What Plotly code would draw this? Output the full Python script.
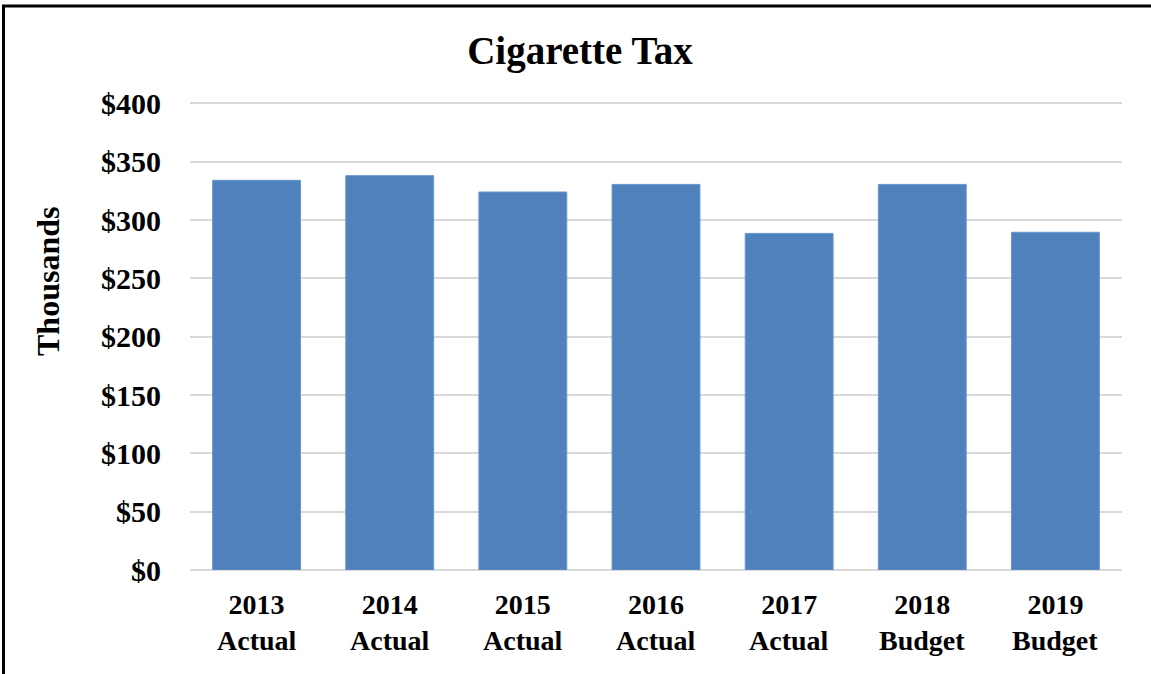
import plotly.graph_objects as go

years = ["2013", "2014", "2015", "2016", "2017", "2018", "2019"]
kinds = ["Actual", "Actual", "Actual", "Actual", "Actual", "Budget", "Budget"]
values = [334, 338, 324, 330.5, 288.5, 330.5, 289.5]
y_ticks = [0, 50, 100, 150, 200, 250, 300, 350, 400]
y_ticktext = ["$" + str(v) for v in y_ticks]

W, H = 1151, 674
L, R, T, B = 190, 29, 101, 104
pw, ph = W - L - R, H - T - B

def px(x):
    return (x - L) / pw

def py(y):
    return (H - B - y) / ph

serif = "Liberation Serif, Times New Roman, serif"
xs = list(range(len(years)))

fig = go.Figure(go.Bar(
    x=xs, y=values,
    marker=dict(color="#4f81bd", line=dict(color="#6a95c9", width=1)),
    width=0.66,
))

annotations = [dict(x=i, y=py(640), xref="x", yref="paper", text=f"<b>{k}</b>",
                    showarrow=False, xanchor="center", yanchor="middle",
                    font=dict(family=serif, size=28, color="black"))
               for i, k in zip(xs, kinds)]
annotations.append(dict(x=px(48), y=py(282), xref="paper", yref="paper",
                        text="<b>Thousands</b>", textangle=-90, showarrow=False,
                        xanchor="center", yanchor="middle",
                        font=dict(family=serif, size=32, color="black")))

fig.update_layout(
    width=W, height=H,
    margin=dict(l=L, r=R, t=T, b=B, pad=0),
    paper_bgcolor="white", plot_bgcolor="white",
    showlegend=False,
    title=dict(text="<b>Cigarette Tax</b>", x=580 / W, xref="container", xanchor="center",
               y=1 - 50 / H, yref="container", yanchor="middle",
               font=dict(family=serif, size=39, color="black")),
    xaxis=dict(tickmode="array", tickvals=xs, ticktext=[f"<b>{y}</b>" for y in years],
               range=[-0.5, len(years) - 0.5], showgrid=False, zeroline=False,
               showline=False, ticks="", ticklabelstandoff=15,
               tickfont=dict(family=serif, size=28, color="black")),
    yaxis=dict(tickmode="array", tickvals=y_ticks, ticktext=[f"<b>{t}</b>" for t in y_ticktext],
               range=[0, 402], showgrid=True, gridcolor="#d9d9d9", gridwidth=2,
               zeroline=True, zerolinecolor="#d9d9d9", zerolinewidth=2,
               showline=False, ticks="", ticklabelstandoff=28,
               tickfont=dict(family=serif, size=30, color="black")),
    annotations=annotations,
    shapes=[dict(type="path", xref="paper", yref="paper",
                 path=f"M {px(3.5)} {py(700)} L {px(3.5)} {py(6)} L {px(1160)} {py(6)}",
                 line=dict(color="black", width=3))],
)

fig.write_html("out.html")
